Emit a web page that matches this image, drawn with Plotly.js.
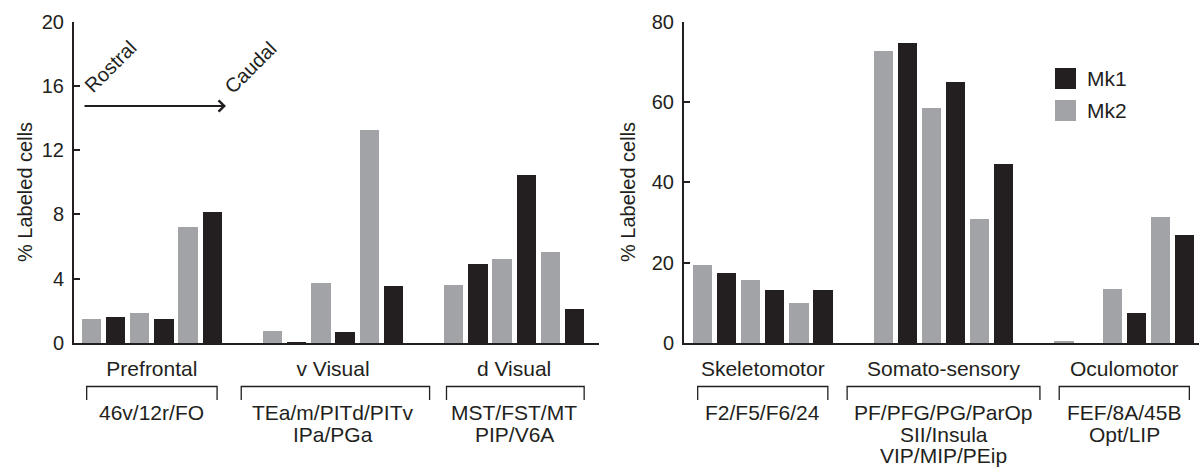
<!DOCTYPE html>
<html>
<head>
<meta charset="utf-8">
<script src="https://cdn.plot.ly/plotly-3.0.1.min.js"></script>
<style>html,body{margin:0;padding:0;background:#fff;}#chart{width:1199px;height:468px;}</style>
</head>
<body>
<div id="chart"></div>
<script>
// ---- data ----
const groupsLeft = ['Prefrontal', 'v Visual', 'd Visual'];
const groupsRight = ['Skeletomotor', 'Somato-sensory', 'Oculomotor'];
const areasLeft = [['46v/12r/FO'], ['TEa/m/PITd/PITv', 'IPa/PGa'], ['MST/FST/MT', 'PIP/V6A']];
const areasRight = [['F2/F5/F6/24'], ['PF/PFG/PG/ParOp', 'SII/Insula', 'VIP/MIP/PEip'], ['FEF/8A/45B', 'Opt/LIP']];
const mk2Left = [1.5, 1.85, 7.2, 0.75, 3.75, 13.25, 3.6, 5.25, 5.65];
const mk1Left = [1.6, 1.5, 8.15, 0.08, 0.7, 3.55, 4.9, 10.45, 2.1];
const mk2Right = [19.4, 15.7, 9.9, 72.8, 58.6, 30.9, 0.5, 13.4, 31.4];
const mk1Right = [17.4, 13.2, 13.2, 74.6, 65.1, 44.6, 0, 7.4, 26.9];
const yTicksLeft = [0, 4, 8, 12, 16, 20];
const yTicksRight = [0, 20, 40, 60, 80];
const seriesNames = ['Mk1', 'Mk2'];

// ---- style ----
const W = 1199, H = 468;
const DARK = '#231f20', GRAY = '#a2a3a7';
const FONT = 'Liberation Sans, Arial, Helvetica, sans-serif';
const px = v => v / W;
const py = v => 1 - v / H;

const GROUP_STRIDE = 7.5;
const slot = (i, k) => Math.floor(i / 3) * GROUP_STRIDE + 2 * (i % 3) + k;
const groupCenters = [0, 1, 2].map(g => g * GROUP_STRIDE + 2.5);

function barTrace(vals, k, color, name, xa, ya) {
  return {
    type: 'bar', x: vals.map((v, i) => slot(i, k)), y: vals, width: 0.8,
    marker: {color: color, line: {width: 0}}, name: name, showlegend: false,
    xaxis: xa, yaxis: ya, hoverinfo: 'y'
  };
}

const data = [
  barTrace(mk2Left, 0, GRAY, seriesNames[1], 'x', 'y'),
  barTrace(mk1Left, 1, DARK, seriesNames[0], 'x', 'y'),
  barTrace(mk2Right, 0, GRAY, seriesNames[1], 'x2', 'y2'),
  barTrace(mk1Right, 1, DARK, seriesNames[0], 'x2', 'y2')
];

const yDom = [(H - 343) / H, (H - 21.7) / H];
const yBase = {
  domain: yDom, showgrid: false, zeroline: false, showline: true, linewidth: 2, linecolor: DARK,
  ticks: 'inside', ticklen: 6, tickwidth: 2, tickcolor: DARK,
  tickfont: {family: FONT, size: 20, color: DARK}, ticklabelstandoff: 4, fixedrange: true
};
const xBase = {
  showgrid: false, zeroline: false, showline: true, linewidth: 2, linecolor: DARK,
  ticks: '', tickvals: groupCenters, tickfont: {family: FONT, size: 21, color: DARK},
  ticklabelstandoff: 6, fixedrange: true
};

const layout = {
  width: W, height: H, margin: {l: 0, r: 0, t: 0, b: 0},
  paper_bgcolor: '#fff', plot_bgcolor: '#fff', bargap: 0,
  font: {family: FONT, color: DARK},
  showlegend: false,
  xaxis: Object.assign({}, xBase, {domain: [px(74), px(599)], range: [-0.725, 21.015], ticktext: groupsLeft, anchor: 'y'}),
  yaxis: Object.assign({}, yBase, {range: [0, 20], tickvals: yTicksLeft, anchor: 'x'}),
  xaxis2: Object.assign({}, xBase, {domain: [px(684), 1], range: [-0.768, 20.6], ticktext: groupsRight, anchor: 'y2'}),
  yaxis2: Object.assign({}, yBase, {range: [0, 80], tickvals: yTicksRight, anchor: 'x2'}),
  annotations: [], shapes: []
};

// y-axis titles
[25, 628].forEach(xp => {
  layout.annotations.push({xref: 'paper', yref: 'paper', x: px(xp), y: py(192), text: '% Labeled cells',
    textangle: -90, showarrow: false, xanchor: 'center', yanchor: 'middle',
    font: {family: FONT, size: 20, color: DARK}});
});

// brackets and area labels
const bracketsLeft = [[-0.2, 5.2], [6.2, 14.0], [14.7, 20.4]];
const bracketsRight = [[-0.2, 5.2], [6.0, 14.0], [14.8, 20.2]];
function addBrackets(spans, areas, xref) {
  spans.forEach((s, g) => {
    layout.shapes.push({type: 'path', xref: xref, yref: 'paper',
      path: `M ${s[0]},${py(400)} L ${s[0]},${py(386.5)} L ${s[1]},${py(386.5)} L ${s[1]},${py(400)}`,
      line: {color: DARK, width: 1.3}});
    areas[g].forEach((t, li) => {
      layout.annotations.push({xref: xref, yref: 'paper', x: groupCenters[g], y: py(412.5 + li * 21.5),
        text: t, showarrow: false, xanchor: 'center', yanchor: 'middle', borderpad: 0,
        font: {family: FONT, size: 21, color: DARK}});
    });
  });
}
addBrackets(bracketsLeft, areasLeft, 'x');
addBrackets(bracketsRight, areasRight, 'x2');

// Rostral -> Caudal
layout.annotations.push({xref: 'paper', yref: 'paper', x: px(110), y: py(67), text: 'Rostral', textangle: -45,
  showarrow: false, xanchor: 'center', yanchor: 'middle', font: {family: FONT, size: 20, color: DARK}});
layout.annotations.push({xref: 'paper', yref: 'paper', x: px(250), y: py(68), text: 'Caudal', textangle: -45,
  showarrow: false, xanchor: 'center', yanchor: 'middle', font: {family: FONT, size: 20, color: DARK}});
layout.annotations.push({xref: 'paper', yref: 'paper', x: px(226), y: py(106), axref: 'paper', ayref: 'paper',
  ax: px(83), ay: py(106), text: '', showarrow: true, arrowhead: 4, arrowsize: 1.1, arrowwidth: 2, arrowcolor: DARK, standoff: 0, startstandoff: 0});

// legend
[[DARK, 68, seriesNames[0]], [GRAY, 100, seriesNames[1]]].forEach(([c, top, name]) => {
  layout.shapes.push({type: 'rect', xref: 'paper', yref: 'paper', x0: px(1055), x1: px(1076), y0: py(top + 21), y1: py(top),
    fillcolor: c, line: {width: 0}});
  layout.annotations.push({xref: 'paper', yref: 'paper', x: px(1085), y: py(top + 10.5), text: name, showarrow: false,
    xanchor: 'left', yanchor: 'middle', font: {family: FONT, size: 21, color: DARK}});
});

Plotly.newPlot('chart', data, layout, {staticPlot: true, displayModeBar: false});
</script>
</body>
</html>
